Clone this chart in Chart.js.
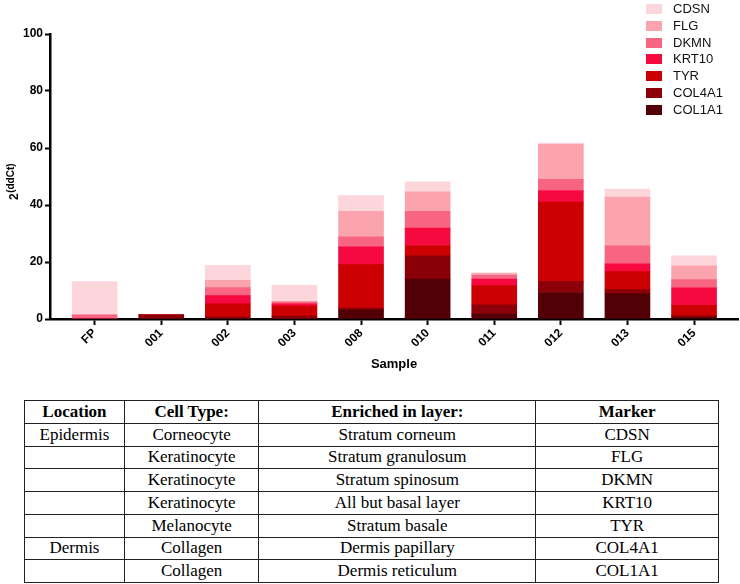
<!DOCTYPE html>
<html>
<head>
<meta charset="utf-8">
<script src="https://cdn.jsdelivr.net/npm/chart.js@4.4.1/dist/chart.umd.min.js"></script>
<style>
  body { margin: 0; background: #fff; }
  #pagina { position: relative; width: 740px; height: 584px; overflow: hidden; }
  #contenedorBar { position: absolute; left: 0; top: 0; width: 740px; height: 376px; }
  #leyenda { position: absolute; left: 646px; top: 1px; font-family: "Liberation Sans", Arial, sans-serif; font-size: 13px; color: #111; }
  #leyenda div { height: 16.8px; line-height: 16.8px; white-space: nowrap; }
  #leyenda span { display: inline-block; width: 16px; height: 10px; margin-right: 11px; vertical-align: -1px; }
  #tabla { position: absolute; left: 24px; top: 400px; width: 695px; border-collapse: collapse;
           font-family: "Liberation Serif", "Times New Roman", serif; font-size: 17px; color: #000; }
  #tabla td, #tabla th { border: 1px solid #222; height: 21.75px; padding: 0; text-align: center; line-height: 20px; }
  #tabla th { font-weight: bold; }
</style>
</head>
<body>
<div id="pagina">
  <div id="contenedorBar"><canvas id="barChart" width="740" height="376"></canvas></div>
  <div id="leyenda"></div>
  <table id="tabla">
    <colgroup><col style="width:100px"><col style="width:134.5px"><col style="width:277.5px"><col style="width:183px"></colgroup>
    <tr><th>Location</th><th>Cell Type:</th><th>Enriched in layer:</th><th>Marker</th></tr>
    <tr><td>Epidermis</td><td>Corneocyte</td><td>Stratum corneum</td><td>CDSN</td></tr>
    <tr><td></td><td>Keratinocyte</td><td>Stratum granulosum</td><td>FLG</td></tr>
    <tr><td></td><td>Keratinocyte</td><td>Stratum spinosum</td><td>DKMN</td></tr>
    <tr><td></td><td>Keratinocyte</td><td>All but basal layer</td><td>KRT10</td></tr>
    <tr><td></td><td>Melanocyte</td><td>Stratum basale</td><td>TYR</td></tr>
    <tr><td>Dermis</td><td>Collagen</td><td>Dermis papillary</td><td>COL4A1</td></tr>
    <tr><td></td><td>Collagen</td><td>Dermis reticulum</td><td>COL1A1</td></tr>
  </table>
</div>

<script>
// muestras y valores 2^(ddCt) por marcador (de abajo hacia arriba en la pila)
var muestras = ["FP", "001", "002", "003", "008", "010", "011", "012", "013", "015"];

var col1a1 = [0,   0,   0,   0,   3.2, 14.0, 1.7, 9.3,  8.9, 0.5];
var col4a1 = [0,   1.5, 0.8, 1.0, 0.6, 8.2,  3.3, 3.9,  1.4, 0.7];
var tyr    = [0,   0,   4.5, 3.5, 15.3, 3.6, 6.7, 27.8, 6.3, 3.6];
var krt10  = [0,   0,   2.9, 0.8, 6.2, 6.1,  2.3, 4.1,  2.8, 6.1];
var dkmn   = [1.5, 0,   2.8, 0.7, 3.5, 5.9,  1.3, 3.9,  6.3, 2.9];
var flg    = [0,   0,   2.6, 0,   9.0, 6.8,  0.6, 12.3, 17.1, 4.9];
var cdsn   = [11.6, 0,  5.2, 5.8, 5.5, 3.5,  0.4, 0.4,  2.8, 3.5];

var marcadores = ["COL1A1", "COL4A1", "TYR", "KRT10", "DKMN", "FLG", "CDSN"];
var series = [col1a1, col4a1, tyr, krt10, dkmn, flg, cdsn];
var colores = ["#520005", "#8b0008", "#cc0000", "#f5093f", "#f86583", "#fca4ae", "#fdd6dc"];

var yTicks = [0, 20, 40, 60, 80, 100];

var fuente = '"Liberation Sans", Arial, Helvetica, sans-serif';

function puntos(valores) {
  return valores.map(function (v, i) { return { x: i, y: v }; });
}

var barData = {
  datasets: series.map(function (s, k) {
    return {
      label: marcadores[k],
      data: puntos(s),
      backgroundColor: colores[k],
      borderWidth: 0,
      stack: "s1",
      barThickness: 45
    };
  })
};

// titulo del eje y con exponente: 2^(ddCt)
var tituloY = {
  id: "tituloY",
  afterDraw: function (chart) {
    var ctx = chart.ctx;
    ctx.save();
    ctx.translate(15, 200);
    ctx.rotate(-Math.PI / 2);
    ctx.fillStyle = "#000";
    ctx.textBaseline = "middle";
    ctx.textAlign = "left";
    ctx.font = "bold 12px " + fuente;
    ctx.fillText("2", 0, 0);
    var w = ctx.measureText("2").width;
    ctx.font = "bold 10px " + fuente;
    ctx.fillText("(ddCt)", w + 0.5, -4);
    ctx.restore();
  }
};

var barOptions = {
  responsive: false,
  animation: false,
  layout: { padding: { top: 34, right: 2, left: 0, bottom: 0 } },
  plugins: {
    legend: { display: false },
    tooltip: { enabled: false }
  },
  scales: {
    x: {
      type: "linear",
      offset: false,
      min: -0.67,
      max: 9.66,
      afterBuildTicks: function (scale) {
        scale.ticks = muestras.map(function (m, i) { return { value: i }; });
      },
      afterFit: function (scale) { scale.height = 57; },
      grid: { offset: false, drawOnChartArea: false, drawTicks: true, tickLength: 6, tickWidth: 2, tickColor: "#000" },
      border: { display: true, color: "#000", width: 2.5 },
      ticks: {
        autoSkip: false,
        minRotation: 45,
        maxRotation: 45,
        padding: 1,
        color: "#000",
        font: { family: fuente, size: 12, weight: "bold" },
        callback: function (v) { return muestras[v]; }
      },
      title: {
        display: true,
        text: "Sample",
        color: "#000",
        padding: { top: 0, bottom: 4 },
        font: { family: fuente, size: 13, weight: "bold" }
      }
    },
    y: {
      stacked: true,
      min: 0,
      max: 100,
      afterBuildTicks: function (scale) {
        scale.ticks = yTicks.map(function (v) { return { value: v }; });
      },
      afterFit: function (scale) { scale.width = 50; },
      grid: { drawOnChartArea: false, drawTicks: true, tickLength: 5, tickWidth: 2, tickColor: "#000" },
      border: { display: true, color: "#000", width: 2.5 },
      ticks: {
        padding: 2,
        color: "#000",
        font: { family: fuente, size: 12, weight: "bold" }
      }
    }
  }
};

var ctx2 = document.getElementById("barChart").getContext("2d");
var myBarChart = new Chart(ctx2, { type: "bar", data: barData, options: barOptions, plugins: [tituloY] });

// leyenda en html, CDSN arriba como en la figura
var html = "";
for (var k = myBarChart.data.datasets.length - 1; k >= 0; k--) {
  var ds = myBarChart.data.datasets[k];
  html += '<div><span style="background:' + ds.backgroundColor + '"></span>' + ds.label + '</div>';
}
document.getElementById("leyenda").innerHTML = html;
</script>
</body>
</html>
